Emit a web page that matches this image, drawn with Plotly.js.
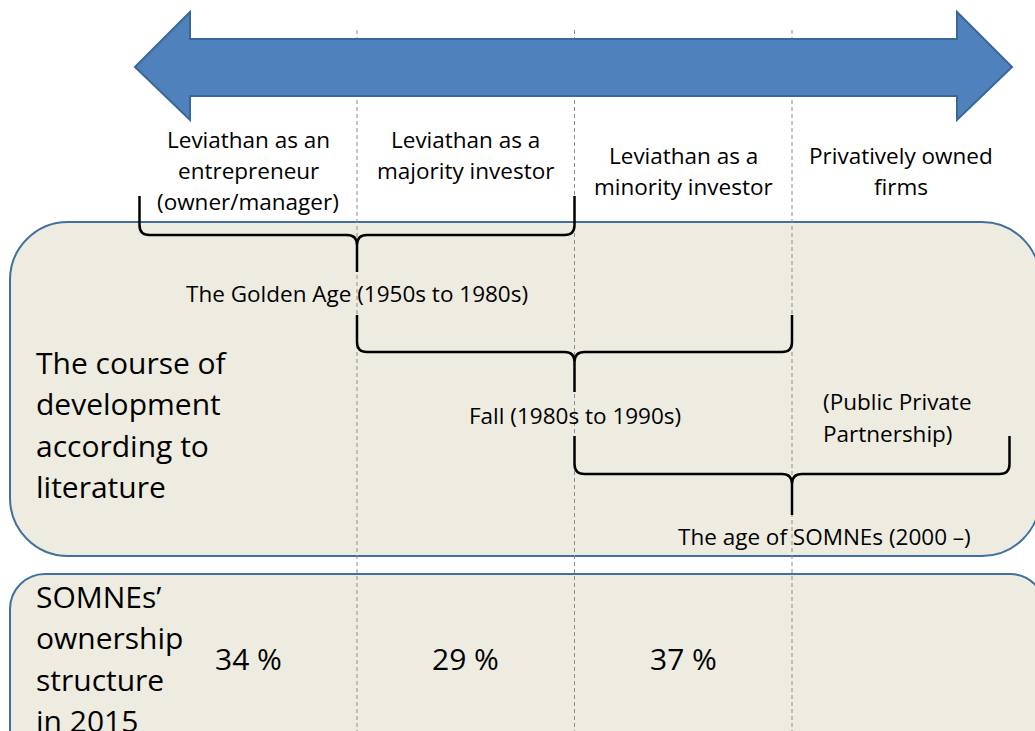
<!DOCTYPE html>
<html>
<head>
<meta charset="utf-8">
<script src="https://cdn.plot.ly/plotly-3.0.1.min.js"></script>
<style>html,body{margin:0;padding:0;background:#fff;}#chart{width:1035px;height:731px;}</style>
</head>
<body>
<div id="chart"></div>
<script>
// ---- content ----
const stageLabels = [
  ["Leviathan as an", "entrepreneur", "(owner/manager)"],
  ["Leviathan as a", "majority investor"],
  ["Leviathan as a", "minority investor"],
  ["Privatively owned", "firms"]
];
const periods = ["The Golden Age (1950s to 1980s)", "Fall (1980s to 1990s)", "The age of SOMNEs (2000 \u2013)"];
const periodStart = [0, 1, 2];   // stage index where each period begins
const periodEnd = [2, 3, 4];     // stage index where each period ends
const shares = [34, 29, 37];     // % of SOMNEs per stage in 2015
const sideNote = ["(Public Private", "Partnership)"];
const rowTitles = [
  ["The course of", "development", "according to", "literature"],
  ["SOMNEs\u2019", "ownership", "structure", "in 2015"]
];
const stageBoundaries = [1, 2, 3];

// ---- layout helpers (x axis in stage units, y axis in pixels) ----
const X0 = 139.5, W = 217.5;            // pixel of stage 0 and width of a stage
const sx = p => (p - X0) / W;            // pixel -> stage units
const FONT = "'Open Sans', Lato, sans-serif";
const SMALL = 22.5, BIG = 30;

const shapes = [];
function roundRect(x0, y0, x1, y1, r) {
  const k = 0.5523 * r;
  const P = (x, y) => sx(x) + "," + y;
  return "M" + P(x0 + r, y0) + " L" + P(x1 - r, y0) +
    " C" + P(x1 - r + k, y0) + " " + P(x1, y0 + r - k) + " " + P(x1, y0 + r) +
    " L" + P(x1, y1 - r) +
    " C" + P(x1, y1 - r + k) + " " + P(x1 - r + k, y1) + " " + P(x1 - r, y1) +
    " L" + P(x0 + r, y1) +
    " C" + P(x0 + r - k, y1) + " " + P(x0, y1 - r + k) + " " + P(x0, y1 - r) +
    " L" + P(x0, y0 + r) +
    " C" + P(x0, y0 + r - k) + " " + P(x0 + r - k, y0) + " " + P(x0 + r, y0) + " Z";
}
const boxStyle = {type: "path", xref: "x", yref: "y", fillcolor: "#EEECE1", line: {color: "#41709E", width: 2}, layer: "below"};
shapes.push(Object.assign({path: roundRect(10, 222, 1040, 556, 58)}, boxStyle));
shapes.push(Object.assign({path: roundRect(10, 574, 1045, 800, 35)}, boxStyle));

// dashed stage boundaries
stageBoundaries.forEach(b => shapes.push({
  type: "line", xref: "x", yref: "y", x0: b, x1: b, y0: 30, y1: 731,
  line: {color: "#8C8C8C", width: 1, dash: "4px,3px"}, layer: "below"
}));

// double-headed arrow
const arrowPts = [[135, 67], [190, 12], [190, 39], [957, 39], [957, 12], [1012, 67], [957, 120], [957, 96], [190, 96], [190, 120]];
shapes.push({
  type: "path", xref: "x", yref: "y",
  path: "M" + arrowPts.map(p => sx(p[0]) + "," + p[1]).join(" L") + " Z",
  fillcolor: "#4F81BD", line: {color: "#3A679B", width: 2}, layer: "below"
});

// curly braces for periods
const braceGeom = [
  {top: 196, h: 235, tip: 272},
  {top: 315, h: 352, tip: 392},
  {top: 436, h: 474, tip: 515}
];
function bracePath(a, b, g) {
  const m = (a + b) / 2, r = 10 / W, c = 10;
  const P = (x, y) => x + "," + y;
  return "M" + P(a, g.top) + " L" + P(a, g.h - c) + " Q" + P(a, g.h) + " " + P(a + r, g.h) +
    " L" + P(m - r, g.h) + " Q" + P(m, g.h) + " " + P(m, g.h + c) + " L" + P(m, g.tip) +
    " L" + P(m, g.h + c) + " Q" + P(m, g.h) + " " + P(m + r, g.h) +
    " L" + P(b - r, g.h) + " Q" + P(b, g.h) + " " + P(b, g.h - c) + " L" + P(b, g.top);
}
periods.forEach((p, i) => shapes.push({
  type: "path", xref: "x", yref: "y", path: bracePath(periodStart[i], periodEnd[i], braceGeom[i]),
  line: {color: "#000", width: 2.5}, layer: "above"
}));

// ---- annotations ----
const annotations = [];
const txt = (x, y, text, size, anchor) => annotations.push({
  x: x, y: y, xref: "x", yref: "y", text: text, showarrow: false,
  xanchor: anchor || "center", yanchor: "middle", font: {family: FONT, size: size, color: "#000"}
});
const labelTop = [139, 139, 155, 155];
stageLabels.forEach((lines, i) => lines.forEach((l, j) => txt(i + 0.5, labelTop[i] + j * 31, l, SMALL)));

const periodY = [293, 415, 536];
const periodShift = [0, 0, 0.15];
periods.forEach((p, i) => txt((periodStart[i] + periodEnd[i]) / 2 + periodShift[i], periodY[i], p, SMALL));

sideNote.forEach((l, j) => txt(sx(821), 401 + j * 32, l, SMALL, "left"));

const rowTop = [362, 596];
rowTitles.forEach((lines, i) => lines.forEach((l, j) => txt(sx(34), rowTop[i] + j * 41.5, l, BIG, "left")));

shares.forEach((s, i) => txt(i + 0.5, 658, s + " %", BIG));

const layout = {
  width: 1035, height: 731,
  margin: {l: 0, r: 0, t: 0, b: 0, pad: 0},
  paper_bgcolor: "#ffffff", plot_bgcolor: "#ffffff",
  showlegend: false,
  xaxis: {range: [sx(0), sx(1035)], visible: false, fixedrange: true},
  yaxis: {range: [731, 0], visible: false, fixedrange: true},
  shapes: shapes, annotations: annotations
};
Plotly.newPlot("chart", [{x: [], y: [], type: "scatter", hoverinfo: "skip"}], layout, {staticPlot: true, displayModeBar: false});
</script>
</body>
</html>
